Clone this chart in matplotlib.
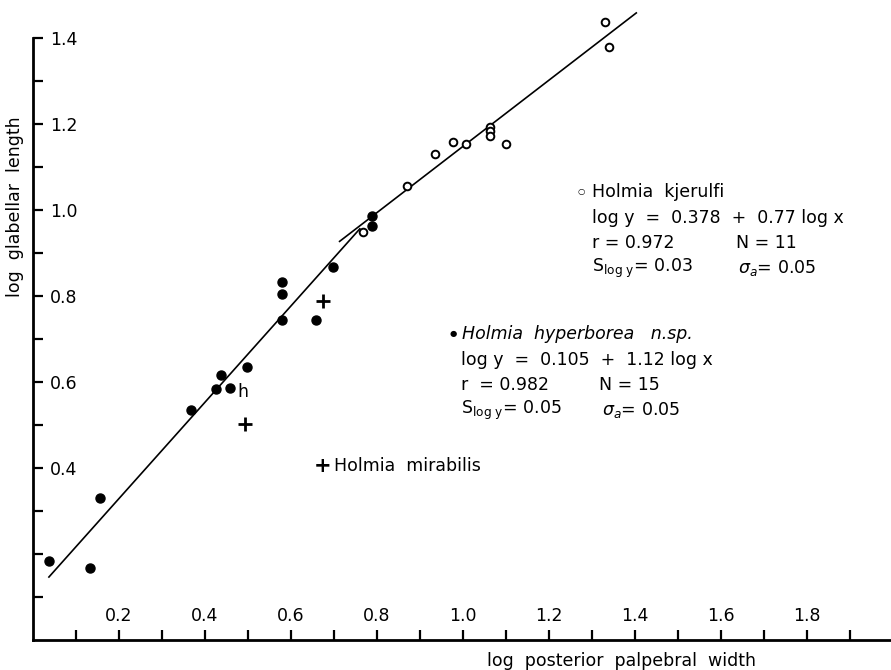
import matplotlib
matplotlib.use("Agg")
import matplotlib.pyplot as plt
import numpy as np

# log posterior palpebral width (x) / log glabellar length (y)
hyperborea_x = [0.037, 0.132, 0.155, 0.367, 0.425, 0.438, 0.457, 0.497,
                0.578, 0.578, 0.579, 0.659, 0.698, 0.788, 0.789]
hyperborea_y = [0.184, 0.167, 0.331, 0.535, 0.584, 0.616, 0.587, 0.636,
                0.832, 0.804, 0.744, 0.744, 0.868, 0.986, 0.963]

kjerulfi_x = [0.767, 0.870, 0.936, 0.977, 1.006, 1.062, 1.062, 1.062,
              1.099, 1.330, 1.339]
kjerulfi_y = [0.950, 1.056, 1.130, 1.159, 1.153, 1.194, 1.184, 1.173,
              1.153, 1.438, 1.378]

mirabilis_x = [0.674, 0.494]
mirabilis_y = [0.788, 0.502]

# regression lines: intercept, slope, x range drawn
hyp_fit = (0.105, 1.12)
hyp_range = (0.037, 0.76)
kje_fit = (0.378, 0.77)
kje_range = (0.713, 1.403)

xticks = [0.1, 0.2, 0.3, 0.4, 0.5, 0.6, 0.7, 0.8, 0.9, 1.0,
          1.1, 1.2, 1.3, 1.4, 1.5, 1.6, 1.7, 1.8, 1.9]
xlabels = ['', '0.2', '', '0.4', '', '0.6', '', '0.8', '', '1.0',
           '', '1.2', '', '1.4', '', '1.6', '', '1.8', '']
yticks = [0.1, 0.2, 0.3, 0.4, 0.5, 0.6, 0.7, 0.8, 0.9, 1.0, 1.1, 1.2, 1.3, 1.4]
ylabels = ['', '', '', '0.4', '', '0.6', '', '0.8', '', '1.0', '', '1.2', '', '1.4']

plt.rcParams['font.family'] = 'DejaVu Sans'
plt.rcParams['mathtext.fontset'] = 'dejavusans'

fig = plt.figure(figsize=(8.91, 6.7), dpi=100)
ax = fig.add_axes([33 / 891, 30 / 670, 858 / 891, 640 / 670])
ax.set_xlim(0, 858 / 430)
ax.set_ylim(0, 640 / 430)

# regression lines
for (a, b), (x0, x1) in [(hyp_fit, hyp_range), (kje_fit, kje_range)]:
    xs = np.array([x0, x1])
    ax.plot(xs, a + b * xs, color='black', lw=1.2, zorder=2)

ax.plot(hyperborea_x, hyperborea_y, 'o', ms=6.5, color='black', zorder=3)
ax.plot(kjerulfi_x, kjerulfi_y, 'o', ms=5.5, mfc='white', mec='black', mew=1.4, zorder=3)
ax.plot(mirabilis_x, mirabilis_y, '+', ms=10, mew=2, color='black', zorder=3)

for s in ['top', 'right']:
    ax.spines[s].set_visible(False)
ax.spines['left'].set_bounds(0, 1.4)
ax.spines['left'].set_linewidth(2)
ax.spines['bottom'].set_linewidth(2)

ax.set_xticks(xticks)
ax.set_xticklabels(xlabels)
ax.set_yticks(yticks)
ax.set_yticklabels(ylabels)
ax.tick_params(direction='in', length=7, width=1.6, labelsize=12.5)
ax.tick_params(axis='x', pad=-10.5)
ax.tick_params(axis='y', pad=-12)
plt.setp(ax.get_xticklabels(), va='bottom')
plt.setp(ax.get_yticklabels(), ha='left')

ax.set_ylabel('log  glabellar  length', fontsize=12.5, va='center')
ax.yaxis.set_label_coords(-0.021, 0.677)
ax.set_xlabel('log  posterior  palpebral  width', fontsize=12.5, va='center')
ax.xaxis.set_label_coords(0.686, -0.033)

fs = 12.5
# Holmia kjerulfi block
ax.text(1.275, 1.042, '\u25CB', fontsize=6, ha='center', va='center')
ax.text(1.300, 1.042, 'Holmia  kjerulfi', fontsize=fs, va='center')
ax.text(1.299, 0.981, 'log y  =  0.378  +  0.77 log x', fontsize=fs, va='center')
ax.text(1.299, 0.923, 'r = 0.972', fontsize=fs, va='center')
ax.text(1.636, 0.923, 'N = 11', fontsize=fs, va='center')
ax.text(1.299, 0.864, r'S$_{\mathrm{log\ y}}$= 0.03', fontsize=fs, va='center')
ax.text(1.639, 0.864, r'$\sigma_a$= 0.05', fontsize=fs, va='center')

# Holmia hyperborea block
ax.text(0.977, 0.712, '\u25CF', fontsize=6, ha='center', va='center')
ax.text(0.997, 0.712, 'Holmia  hyperborea   n.sp.', fontsize=fs, va='center', style='italic')
ax.text(0.996, 0.651, 'log y  =  0.105  +  1.12 log x', fontsize=fs, va='center')
ax.text(0.996, 0.593, 'r  = 0.982', fontsize=fs, va='center')
ax.text(1.316, 0.593, 'N = 15', fontsize=fs, va='center')
ax.text(0.996, 0.535, r'S$_{\mathrm{log\ y}}$= 0.05', fontsize=fs, va='center')
ax.text(1.324, 0.535, r'$\sigma_a$= 0.05', fontsize=fs, va='center')

# Holmia mirabilis
ax.text(0.673, 0.405, '+', fontsize=15, fontweight='bold', ha='center', va='center')
ax.text(0.700, 0.405, 'Holmia  mirabilis', fontsize=fs, va='center')
ax.text(0.488, 0.577, 'h', fontsize=fs, va='center', ha='center')

fig.savefig('out.png', dpi=100)
